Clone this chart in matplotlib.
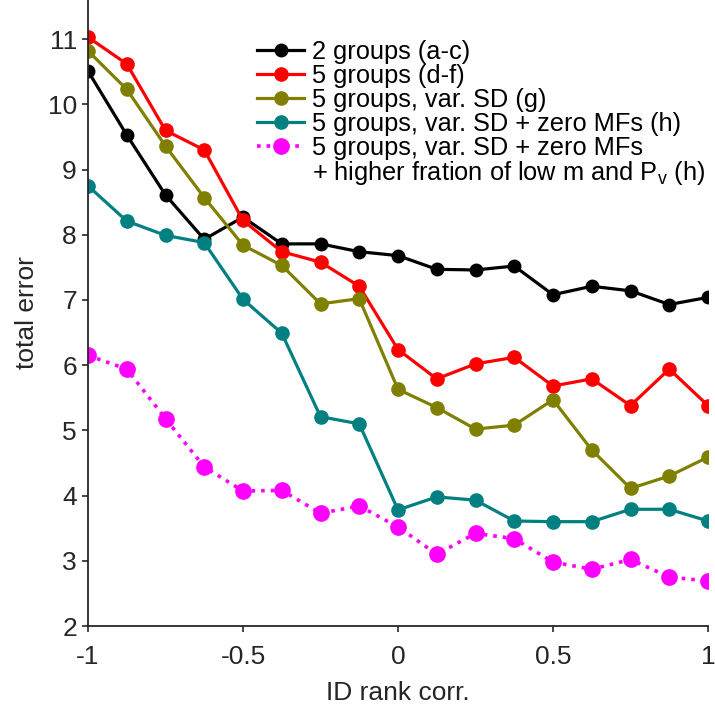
import matplotlib
matplotlib.use('Agg')
import matplotlib.pyplot as plt
import matplotlib.transforms as mtransforms
import numpy as np

plt.rcParams['font.family'] = ['Liberation Sans', 'DejaVu Sans']
plt.rcParams['mathtext.fontset'] = 'custom'
plt.rcParams['mathtext.rm'] = 'Liberation Sans'
plt.rcParams['mathtext.it'] = 'Liberation Sans:italic'

# rank correlation steps
rank_corr = np.linspace(-1, 1, 17)

err_2groups = [10.51, 9.53, 8.61, 7.93, 8.27, 7.86, 7.86, 7.74, 7.68, 7.47, 7.46,
               7.52, 7.08, 7.21, 7.14, 6.93, 7.04]
err_5groups = [11.03, 10.62, 9.60, 9.30, 8.22, 7.74, 7.58, 7.21, 6.24, 5.79, 6.02,
               6.12, 5.68, 5.79, 5.38, 5.94, 5.38]
err_varsd = [10.82, 10.23, 9.36, 8.57, 7.84, 7.53, 6.94, 7.02, 5.63, 5.35, 5.02,
             5.08, 5.47, 4.70, 4.11, 4.30, 4.59]
err_zero_mf = [8.75, 8.21, 7.99, 7.88, 7.01, 6.49, 5.21, 5.10, 3.78, 3.98, 3.93,
               3.61, 3.60, 3.60, 3.79, 3.79, 3.61]
err_low_m = [6.15, 5.94, 5.18, 4.44, 4.07, 4.08, 3.73, 3.84, 3.52, 3.10, 3.42,
             3.34, 2.98, 2.87, 3.02, 2.75, 2.69]

labels = ['2 groups (a-c)',
          '5 groups (d-f)',
          '5 groups, var. SD (g)',
          '5 groups, var. SD + zero MFs (h)',
          '5 groups, var. SD + zero MFs']
label_extra = '+ higher fration of low m and P$_\\mathrm{v}$ (h)'

fig = plt.figure(figsize=(7.15, 7.11), dpi=100)
ax = fig.add_axes([88 / 715, 1 - 626 / 711, 620 / 715, 626 / 711])

ax.plot(rank_corr, err_2groups, '-o', color='black', lw=2.3, ms=9, label=labels[0])
ax.plot(rank_corr, err_5groups, '-o', color='#ff0000', lw=2.3, ms=9.5, label=labels[1])
ax.plot(rank_corr, err_varsd, '-o', color='#808000', lw=2.3, ms=9.5, label=labels[2])
ax.plot(rank_corr, err_zero_mf, '-o', color='#008080', lw=2.3, ms=9.5, label=labels[3])
ax.plot(rank_corr, err_low_m, ':o', color='#ff00ff', lw=2.6, ms=11, label=labels[4])

ax.set_xlim(-1, 1)
ax.set_ylim(2, 11.6)
ax.set_xticks([-1, -0.5, 0, 0.5, 1])
ax.set_xticklabels(['-1', '-0.5', '0', '0.5', '1'])
ax.set_yticks(range(2, 12))

for side in ['top', 'right']:
    ax.spines[side].set_visible(False)
for side in ['left', 'bottom']:
    ax.spines[side].set_color('#262626')
    ax.spines[side].set_linewidth(1.3)
ax.tick_params(direction='out', length=4, width=1.2, colors='#262626', labelsize=19)
ax.tick_params(axis='x', pad=10)
ax.tick_params(axis='y', pad=4)

ax.set_xlabel('ID rank corr.', fontsize=19, color='#262626', labelpad=8)
ax.set_ylabel('total error', fontsize=19, color='#262626', labelpad=6)

leg = ax.legend(loc='upper left', bbox_to_anchor=(0.273, 0.936), frameon=False,
                fontsize=18.3, labelspacing=0.0, handlelength=1.85, handletextpad=0.3,
                borderaxespad=0, borderpad=0)

# second line of the last legend entry, placed under its text
fig.canvas.draw()
last = leg.get_texts()[-1].get_window_extent()
offset = mtransforms.ScaledTranslation(0, -27 / 100, fig.dpi_scale_trans)
x0, y0 = fig.transFigure.inverted().transform((last.x0, last.y0))
fig.text(x0, y0, label_extra, fontsize=18.3, ha='left', va='bottom',
         transform=fig.transFigure + offset)

fig.savefig('out.png', dpi=100)
